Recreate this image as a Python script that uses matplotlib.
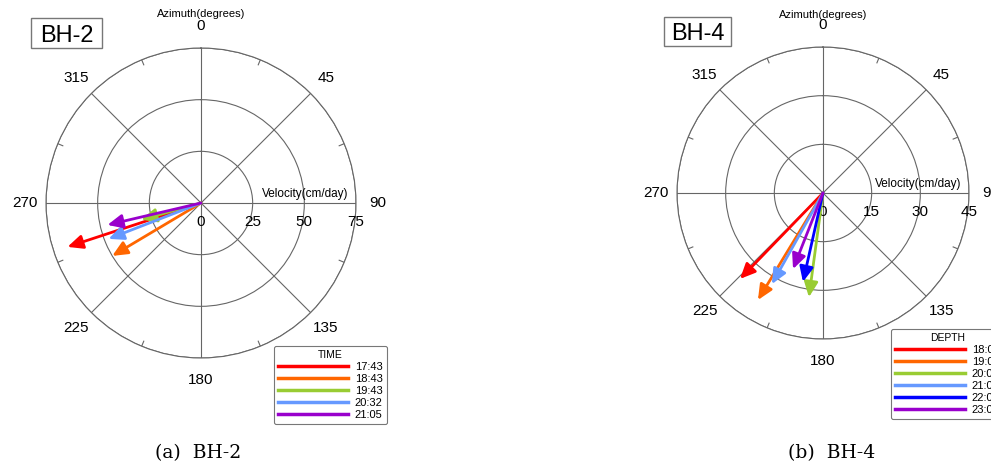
import numpy as np
import matplotlib
matplotlib.use("Agg")
import matplotlib.pyplot as plt
from matplotlib.patches import Rectangle
from matplotlib.lines import Line2D

plt.rcParams['font.family'] = ['Liberation Sans', 'DejaVu Sans']

# BH-2: flow direction (azimuth, deg) and velocity (cm/day) per time
bh2_times = ["17:43", "18:43", "19:43", "20:32", "21:05"]
bh2_azimuth = [251.8, 239.2, 254.4, 248.8, 256.8]
bh2_velocity = [68.0, 50.0, 30.0, 48.0, 46.5]
bh2_colors = ["#ff0000", "#ff6600", "#99cc33", "#6699ff", "#9900cc"]

# BH-4: flow direction and velocity per depth reading
bh4_depths = ["18:00", "19:00", "20:00", "21:00", "22:00", "23:00"]
bh4_azimuth = [224.0, 211.3, 187.7, 209.3, 192.7, 201.5]
bh4_velocity = [36.8, 38.6, 32.4, 32.2, 28.1, 25.2]
bh4_colors = ["#ff0000", "#ff6600", "#99cc33", "#6699ff", "#0000ff", "#9900cc"]

bh2_rticks = [0, 25, 50, 75]
bh4_rticks = [0, 15, 30, 45]
theta_ticks = list(range(0, 360, 45))

grid_col = "#666666"

fig = plt.figure(figsize=(9.91, 4.68), dpi=100)
W, H = 991.0, 468.0


def polar_panel(cx, cy, rad, rticks, azim, vel, cols, labels, leg_title,
                leg_xy, name, name_box, caption, cap_xy):
    ax = fig.add_axes([(cx - rad) / W, (H - cy - rad) / H, 2 * rad / W, 2 * rad / H],
                      projection='polar')
    ax.set_theta_zero_location('N')
    ax.set_theta_direction(-1)
    rmax = rticks[-1]
    ax.set_ylim(0, rmax)
    ax.set_yticks(rticks[1:])
    ax.set_yticklabels([])
    ax.set_thetagrids(theta_ticks, [str(t) for t in theta_ticks])
    ax.tick_params(axis='x', pad=5, labelsize=11)
    ax.grid(True, color=grid_col, lw=0.8)
    ax.spines['polar'].set_color(grid_col)
    ax.spines['polar'].set_linewidth(0.8)

    # small ticks on the rim between the spokes
    for t in np.arange(22.5, 360, 45):
        th = np.deg2rad(t)
        ax.plot([th, th], [rmax * 0.965, rmax], color=grid_col, lw=0.8)

    # radial scale labels under the 90 spoke
    for r in rticks:
        ax.annotate(str(r), xy=(np.pi / 2, r), xytext=(0, -12), textcoords='offset pixels',
                    ha='center', va='top', fontsize=11, annotation_clip=False)
    ax.annotate("Velocity(cm/day)", xy=(np.pi / 2, rmax * 0.95), xytext=(0, 3),
                textcoords='offset pixels', ha='right', va='bottom', fontsize=8.5)
    ax.text(0.5, 1.11, "Azimuth(degrees)", transform=ax.transAxes,
            ha='center', va='center', fontsize=8)

    for a, v, c in zip(azim, vel, cols):
        ax.annotate("", xy=(np.deg2rad(a), v), xytext=(0, 0),
                    arrowprops=dict(arrowstyle='-|>,head_length=0.7,head_width=0.32',
                                    color=c, lw=2, mutation_scale=13,
                                    shrinkA=0, shrinkB=0))

    handles = [Line2D([0], [0], color=c, lw=2.5) for c in cols]
    leg = fig.legend(handles, labels, title=leg_title, loc='upper left',
                     bbox_to_anchor=(leg_xy[0] / W, 1 - leg_xy[1] / H),
                     fontsize=8, title_fontsize=7.5, handlelength=6.3,
                     labelspacing=0.18, handletextpad=0.6, borderpad=0.4,
                     fancybox=True, framealpha=1, edgecolor="#777777")
    leg.get_frame().set_linewidth(0.8)

    x0, y0, x1, y1 = name_box
    fig.patches.append(Rectangle((x0 / W, 1 - y1 / H), (x1 - x0) / W, (y1 - y0) / H,
                                 transform=fig.transFigure, fill=False,
                                 edgecolor="#777777", lw=1))
    fig.text((x0 + x1) / 2 / W, 1 - (y0 + y1) / 2 / H - 0.006, name,
             ha='center', va='center', fontsize=17)
    fig.text(cap_xy[0] / W, 1 - cap_xy[1] / H, caption, ha='center', va='center',
             fontsize=13.5, family=['DejaVu Serif'])
    return ax


polar_panel(201, 203, 155, bh2_rticks, bh2_azimuth, bh2_velocity, bh2_colors,
            bh2_times, "TIME", (268, 340), "BH-2", (31, 18, 102, 48),
            "(a)  BH-2", (198, 453))
polar_panel(823, 193, 146, bh4_rticks, bh4_azimuth, bh4_velocity, bh4_colors,
            bh4_depths, "DEPTH", (885, 323), "BH-4", (664, 17, 731, 46),
            "(b)  BH-4", (832, 453))

fig.savefig("out.png", dpi=100)
